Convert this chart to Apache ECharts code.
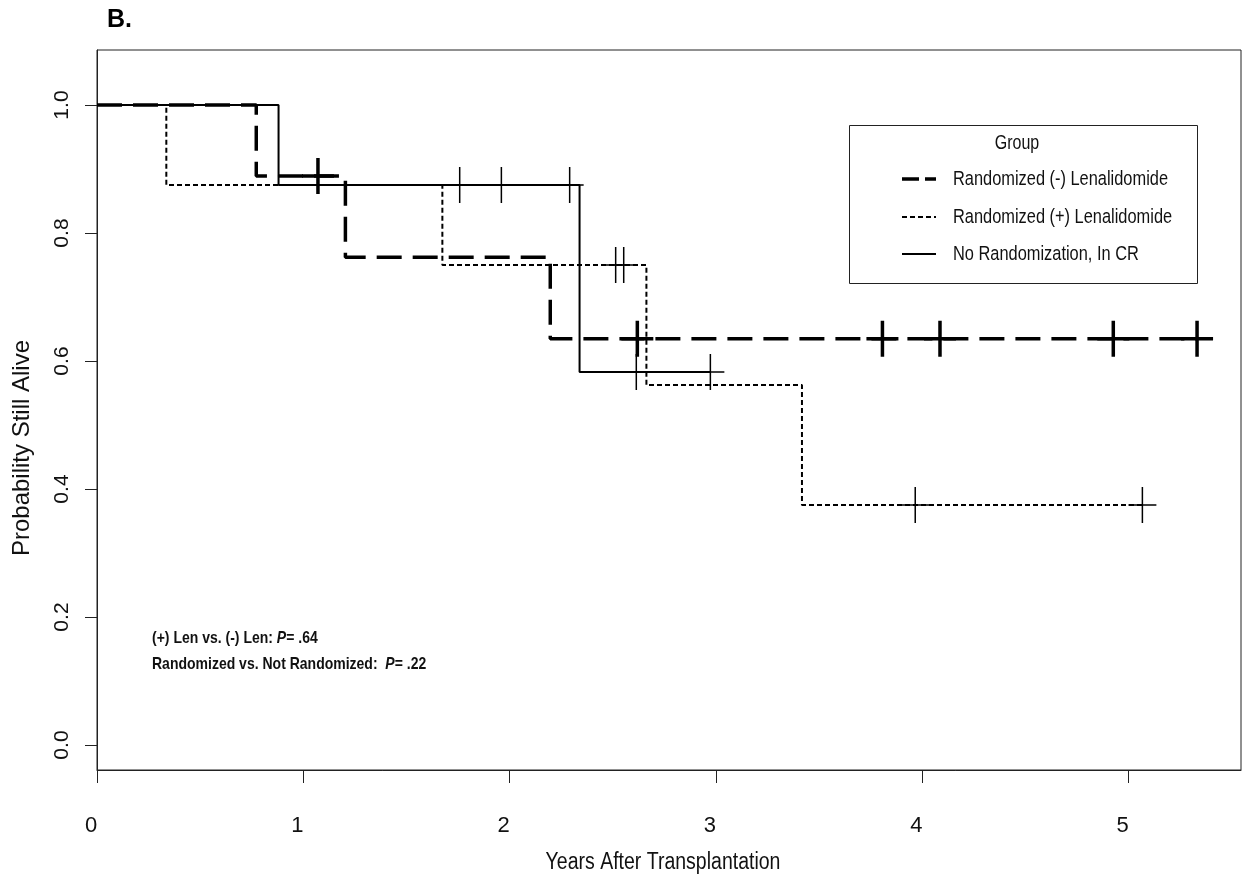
<!DOCTYPE html>
<html><head><meta charset="utf-8">
<script src="https://cdn.jsdelivr.net/npm/echarts@6/dist/echarts.min.js"></script>
<style>html,body{margin:0;padding:0;background:#fff}#c{width:1248px;height:886px}</style>
</head><body><div id="c"></div>
<script>
// ---- data ----
const seriesNames = ['Randomized (-) Lenalidomide', 'Randomized (+) Lenalidomide', 'No Randomization, In CR'];
// Kaplan-Meier steps: [time, survival after that time]
const negLenSteps = [[0, 1.0], [0.772, 0.889], [1.204, 0.762], [2.197, 0.635], [5.332, 0.635]];
const posLenSteps = [[0, 1.0], [0.336, 0.875], [1.674, 0.75], [2.663, 0.5625], [3.417, 0.375], [5.067, 0.375]];
const noRandSteps = [[0, 1.0], [0.880, 0.875], [2.339, 0.583], [2.973, 0.583]];
// censoring marks
const negLenCensor = [[1.071, 0.889], [2.619, 0.635], [3.807, 0.635], [4.086, 0.635], [4.926, 0.635], [5.332, 0.635]];
const posLenCensor = [[2.514, 0.75], [2.553, 0.75], [3.966, 0.375], [5.067, 0.375]];
const noRandCensor = [[1.758, 0.875], [1.960, 0.875], [2.291, 0.875], [2.614, 0.583], [2.973, 0.583]];
const xTicks = [0, 1, 2, 3, 4, 5];
const yTicks = [0, 0.2, 0.4, 0.6, 0.8, 1.0];
const xTitle = 'Years After Transplantation';
const yTitle = 'Probability Still Alive';
const legendTitle = 'Group';
const annotLines = ['(+) Len vs. (-) Len: ', 'Randomized vs. Not Randomized:  '];
const annotP = ['.64', '.22'];

const SANS = "'Liberation Sans',Arial,sans-serif";
const thickCross = 'path://M14.25,0H17.75V16.25H32V19.75H17.75V36H14.25V19.75H0V16.25H14.25Z';
const thinCross = 'path://M13.25,0H14.75V17.25H28V18.75H14.75V36H13.25V18.75H0V17.25H13.25Z';

const chart = echarts.init(document.getElementById('c'), null, {renderer: 'canvas'});

const legendRows = [
  {y: 179, dash: [17, 6], w: 3.5},
  {y: 217, dash: [5, 3], w: 2},
  {y: 254, dash: null, w: 2}
];
const graphics = [
  {type: 'text', x: 107, y: 20, style: {text: 'B.', font: "bold 25px " + SANS, fill: '#000', verticalAlign: 'middle'}},
  {type: 'text', x: 663, y: 862, scaleY: 1.25, style: {text: xTitle, font: "19.5px " + SANS, fill: '#111', align: 'center', verticalAlign: 'middle'}},
  {type: 'text', x: 22, y: 448, rotation: Math.PI / 2, style: {text: yTitle, font: "24px " + SANS, fill: '#111', align: 'center', verticalAlign: 'middle'}},
  {type: 'rect', shape: {x: 849.5, y: 125.5, width: 348, height: 158}, style: {fill: '#fff', stroke: '#222', lineWidth: 1}, z: 10},
  {type: 'text', x: 1017, y: 143, scaleY: 1.25, style: {text: legendTitle, font: "16px " + SANS, fill: '#111', align: 'center', verticalAlign: 'middle'}, z: 11}
];
legendRows.forEach((r, i) => {
  graphics.push({type: 'line', shape: {x1: 902, y1: r.y, x2: 936, y2: r.y},
    style: {stroke: '#000', lineWidth: r.w, lineDash: r.dash}, z: 11});
  graphics.push({type: 'text', x: 953, y: r.y, scaleY: 1.25, style: {text: seriesNames[i], font: "16.4px " + SANS, fill: '#111', verticalAlign: 'middle'}, z: 11});
});
annotLines.forEach((t, i) => {
  graphics.push({type: 'text', x: 152, y: 638 + i * 26, scaleY: 1.2, style: {
    text: '{a|' + t + '}{p|P}{a|= ' + annotP[i] + '}',
    verticalAlign: 'middle',
    rich: {
      a: {font: "bold 14px " + SANS, fill: '#111'},
      p: {font: "italic bold 14px " + SANS, fill: '#111'}
    }
  }, z: 11});
});

function lineSeries(name, data, width, dash) {
  return {name, type: 'line', step: 'end', data, symbol: 'none', silent: true,
    lineStyle: {color: '#000', width, type: dash || 'solid', cap: 'butt'}, z: 3};
}
function censorSeries(name, data, sym, size) {
  return {name: name + ' censored', type: 'scatter', data, symbol: sym, symbolSize: size,
    itemStyle: {color: '#000', opacity: 1}, silent: true, z: 4};
}

chart.setOption({
  animation: false,
  backgroundColor: '#fff',
  grid: {left: 97, right: 7, top: 50, bottom: 116, show: true, borderColor: '#222', borderWidth: 1},
  xAxis: {
    type: 'value', min: 0, max: 5.545,
    axisLine: {show: true, onZero: false, lineStyle: {color: '#222', width: 1}},
    axisTick: {show: true, inside: false, length: 13, customValues: xTicks, lineStyle: {color: '#222'}},
    axisLabel: {customValues: xTicks, margin: 45, fontFamily: SANS, fontSize: 22, color: '#111',
      padding: [0, 12, 0, 0], formatter: v => String(v)},
    splitLine: {show: false}
  },
  yAxis: {
    type: 'value', min: -0.039, max: 1.086,
    axisLine: {show: true, onZero: false, lineStyle: {color: '#222', width: 1}},
    axisTick: {show: true, inside: false, length: 12, customValues: yTicks, lineStyle: {color: '#222'}},
    axisLabel: {customValues: yTicks, rotate: 90, margin: 24, fontFamily: SANS, fontSize: 21, color: '#111',
      formatter: v => v.toFixed(1)},
    splitLine: {show: false}
  },
  graphic: graphics,
  series: [
    lineSeries(seriesNames[0], negLenSteps, 3.5, [25, 11]),
    lineSeries(seriesNames[1], posLenSteps, 2, [5, 3]),
    lineSeries(seriesNames[2], noRandSteps, 2, 'solid'),
    censorSeries(seriesNames[0], negLenCensor, thickCross, [32, 36]),
    censorSeries(seriesNames[1], posLenCensor, thinCross, [28, 36]),
    censorSeries(seriesNames[2], noRandCensor, thinCross, [28, 36])
  ]
});
</script></body></html>
